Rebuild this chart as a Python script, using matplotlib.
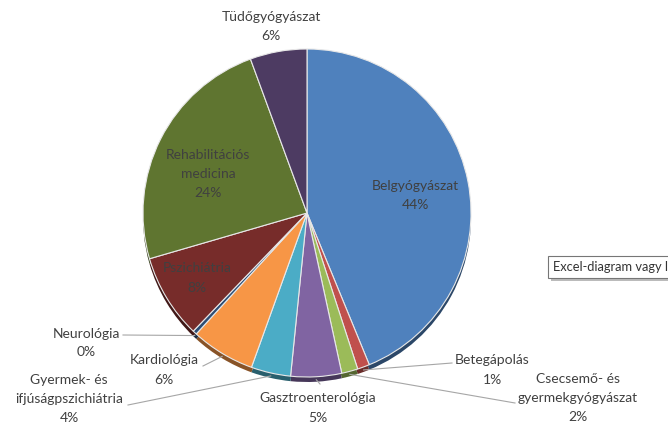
import numpy as np
import matplotlib
matplotlib.use('Agg')
import matplotlib.pyplot as plt
from matplotlib.colors import to_rgb
from matplotlib.patches import Rectangle

# adatok (óramutató járásával egyezően, 12 órától)
osztalyok = ['Belgyógyászat', 'Betegápolás', 'Csecsemő- és\ngyermekgyógyászat',
             'Gasztroenterológia', 'Gyermek- és\nifjúságpszichiátria', 'Kardiológia',
             'Neurológia', 'Pszichiátria', 'Rehabilitációs\nmedicina', 'Tüdőgyógyászat']
ertekek = [43.8, 1.2, 1.6, 5.0, 3.9, 6.3, 0.4, 8.3, 23.9, 5.6]
szinek = ['#4F81BD', '#C0504D', '#9BBB59', '#8064A2', '#4BACC6', '#F79646',
          '#2C4D75', '#772C2A', '#5F7530', '#4D3B62']

# címkék helye (pixel, bal felső sarokból)
cimke_hely = [(415, 195), (492, 370), (578, 398), (318, 408), (69, 399),
              (164, 370), (86, 343), (197, 278), (208, 174), (271, 26)]
vonal_vege = [None, (452, 363), (515, 403), (320, 384), (128, 405),
              (203, 366), (123, 335), None, None, None]

W, H = 668, 425
fig = plt.figure(figsize=(W / 100, H / 100), dpi=100)
ax = fig.add_axes([0, 0, 1, 1])

kozep = (307, H - 213)
sugar = 164

# 3D perem: sötétebb pite kicsit lejjebb
sotet = [tuple(c * 0.55 for c in to_rgb(s)) for s in szinek]
ax.pie(ertekek, colors=sotet, startangle=90, counterclock=False,
       center=(kozep[0], kozep[1] - 5), radius=sugar, frame=True,
       wedgeprops=dict(edgecolor='none'))
ekek, _ = ax.pie(ertekek, colors=szinek, startangle=90, counterclock=False,
                 center=kozep, radius=sugar, frame=True,
                 wedgeprops=dict(edgecolor='#E8E8E8', linewidth=0.8))
ax.set_xlim(0, W)
ax.set_ylim(0, H)
ax.set_aspect('equal')
ax.axis('off')

osszeg = sum(ertekek)
betu = dict(family=['Lato', 'DejaVu Sans'], fontsize=10, color='#404040',
            ha='center', va='center', linespacing=1.7)
for i, (nev, v) in enumerate(zip(osztalyok, ertekek)):
    szoveg = f'{nev}\n{v / osszeg * 100:.0f}%'
    x, y = cimke_hely[i]
    ax.text(x, H - y, szoveg, **betu)
    if vonal_vege[i] is not None:
        e = ekek[i]
        szog = np.deg2rad((e.theta1 + e.theta2) / 2)
        px = kozep[0] + sugar * np.cos(szog)
        py = kozep[1] + sugar * np.sin(szog) - 3
        vx, vy = vonal_vege[i]
        ax.plot([vx, px], [H - vy, py], color='#A6A6A6', linewidth=0.8)

# Excel tooltip a jobb szélen (kilóg a képből)
ax.add_patch(Rectangle((551, H - 281), 140, 22, facecolor='#BBBBBB',
                       edgecolor='none', clip_on=False))
ax.add_patch(Rectangle((548, H - 278), 140, 22, facecolor='white',
                       edgecolor='#767676', linewidth=0.8, clip_on=False))
ax.text(553, H - 267, 'Excel-diagram vagy l', family=['Lato', 'DejaVu Sans'],
        fontsize=9.3, color='#333333', ha='left', va='center')

fig.savefig('out.png', dpi=100)
